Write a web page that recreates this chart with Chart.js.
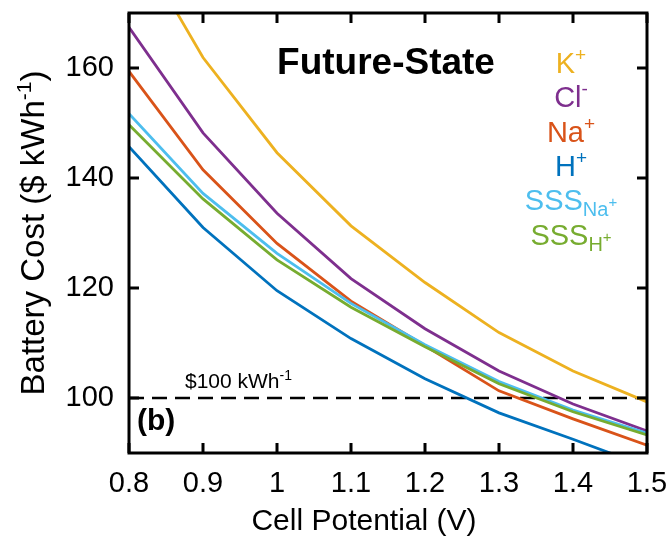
<!DOCTYPE html>
<html>
<head>
<meta charset="utf-8">
<script src="https://cdn.jsdelivr.net/npm/chart.js@4/dist/chart.umd.min.js"></script>
<style>
  html, body { margin: 0; padding: 0; background: #fff; }
  #wrap { width: 670px; height: 539px; }
</style>
</head>
<body>
<div id="wrap"><canvas id="costChart" width="670" height="539"></canvas></div>
<script>
// cell potential (V) vs battery cost ($/kWh), future-state case
const cellPotential = [0.8, 0.9, 1.0, 1.1, 1.2, 1.3, 1.4, 1.5];
const costK = [185.0, 161.9, 144.6, 131.3, 121.0, 111.9, 104.9, 99.3];
const costCl = [167.4, 148.2, 133.6, 121.7, 112.6, 104.9, 98.9, 94.0];
const costNa = [159.4, 141.5, 128.1, 117.6, 109.5, 101.3, 96.2, 91.4];
const costH = [145.7, 131.0, 119.5, 110.8, 103.5, 97.3, 92.5, 87.5];
const costSssNa = [151.7, 137.2, 126.3, 117.2, 109.7, 103.0, 97.8, 93.6];
const costSssH = [149.7, 136.2, 125.1, 116.5, 109.3, 102.6, 97.5, 93.3];
const targetX = [0.8, 1.5];
const targetCost = [100, 100];

const xTickValues = [0.8, 0.9, 1, 1.1, 1.2, 1.3, 1.4, 1.5];
const yTickValues = [100, 120, 140, 160];

const colK = "#EDB120";
const colCl = "#7E2F8E";
const colNa = "#D95319";
const colH = "#0072BD";
const colSssNa = "#4DBEEE";
const colSssH = "#77AC30";

const FONT = "'Liberation Sans', Arial, Helvetica, sans-serif";
Chart.defaults.font.family = FONT;
Chart.defaults.color = "#000";

function pts(xs, ys) {
  return xs.map((v, i) => ({ x: v, y: ys[i] }));
}

function series(label, ys, color) {
  return {
    label: label,
    data: pts(cellPotential, ys),
    borderColor: color,
    backgroundColor: color,
    borderWidth: 2.8,
    pointRadius: 0,
    tension: 0,
  };
}

// rich text: parts = [[text, size, dy, bold]]
function richWidth(ctx, parts) {
  let w = 0;
  parts.forEach(p => {
    ctx.font = (p[3] ? "bold " : "") + p[1] + "px " + FONT;
    w += ctx.measureText(p[0]).width;
  });
  return w;
}
function drawRich(ctx, parts, x, y, align) {
  const w = richWidth(ctx, parts);
  let cx = align === "center" ? x - w / 2 : x;
  ctx.textAlign = "left";
  ctx.textBaseline = "alphabetic";
  parts.forEach(p => {
    ctx.font = (p[3] ? "bold " : "") + p[1] + "px " + FONT;
    ctx.fillText(p[0], cx, y + p[2]);
    cx += ctx.measureText(p[0]).width;
  });
}

const legendRows = [
  { color: colK, parts: [["K", 29, 0], ["+", 19, -12]] },
  { color: colCl, parts: [["Cl", 29, 0], ["-", 19, -12]] },
  { color: colNa, parts: [["Na", 29, 0], ["+", 19, -12]] },
  { color: colH, parts: [["H", 29, 0], ["+", 19, -12]] },
  { color: colSssNa, parts: [["SSS", 29, 0], ["Na", 20, 6], ["+", 15, -3]] },
  { color: colSssH, parts: [["SSS", 29, 0], ["H", 20, 6], ["+", 15, -3]] },
];

const decorPlugin = {
  id: "decor",
  afterDatasetsDraw(chart) {
    const { ctx, chartArea: a, scales } = chart;
    const sx = scales.x, sy = scales.y;
    ctx.save();
    ctx.strokeStyle = "#000";
    ctx.lineWidth = 3;
    ctx.beginPath();
    xTickValues.forEach(v => {
      const px = sx.getPixelForValue(v);
      ctx.moveTo(px, a.bottom); ctx.lineTo(px, a.bottom - 10);
      ctx.moveTo(px, a.top); ctx.lineTo(px, a.top + 10);
    });
    yTickValues.forEach(v => {
      const py = sy.getPixelForValue(v);
      ctx.moveTo(a.left, py); ctx.lineTo(a.left + 10, py);
      ctx.moveTo(a.right, py); ctx.lineTo(a.right - 10, py);
    });
    ctx.stroke();
    ctx.lineJoin = "miter";
    ctx.strokeRect(a.left, a.top, a.right - a.left, a.bottom - a.top);

    ctx.fillStyle = "#000";
    drawRich(ctx, [["Future-State", 37, 0, true]], 386, 74, "center");
    drawRich(ctx, [["(b)", 30, 0, true]], 137, 430, "left");
    drawRich(ctx, [["$100 kWh", 21, 0], ["-1", 14, -8]], 185, 388, "left");

    let base = 73;
    legendRows.forEach(r => {
      ctx.fillStyle = r.color;
      drawRich(ctx, r.parts, 571, base, "center");
      base += 34.3;
    });

    // axis titles
    ctx.fillStyle = "#000";
    drawRich(ctx, [["Cell Potential (V)", 30, 0]], 364, 530, "center");
    ctx.translate(44, 233);
    ctx.rotate(-Math.PI / 2);
    drawRich(ctx, [["Battery Cost ($ kWh", 33, 0], ["-1", 21, -13], [")", 33, 0]], 0, 0, "center");
    ctx.restore();
  },
};

function noPad(s) {
  s.paddingTop = 0; s.paddingBottom = 0; s.paddingLeft = 0; s.paddingRight = 0;
}

new Chart(document.getElementById("costChart").getContext("2d"), {
  type: "line",
  data: {
    datasets: [
      series("H+", costH, colH),
      series("SSS H+", costSssH, colSssH),
      series("SSS Na+", costSssNa, colSssNa),
      series("Na+", costNa, colNa),
      series("Cl-", costCl, colCl),
      series("K+", costK, colK),
      {
        label: "$100 kWh-1",
        data: pts(targetX, targetCost),
        borderColor: "#000",
        borderWidth: 2.5,
        borderDash: [15, 8],
        pointRadius: 0,
      },
    ],
  },
  options: {
    responsive: false,
    animation: false,
    layout: { padding: { top: 13, right: 23, left: 0, bottom: 0 } },
    plugins: { legend: { display: false }, tooltip: { enabled: false } },
    scales: {
      x: {
        type: "linear",
        min: 0.8,
        max: 1.5,
        afterBuildTicks: s => { s.ticks = xTickValues.map(v => ({ value: v })); },
        afterFit: s => { s.height = 86; noPad(s); },
        grid: { display: false, drawTicks: false },
        border: { display: false },
        ticks: { font: { size: 29 }, padding: 14, maxRotation: 0, callback: v => String(v) },
      },
      y: {
        min: 90,
        max: 170,
        afterBuildTicks: s => { s.ticks = yTickValues.map(v => ({ value: v })); },
        afterFit: s => { s.width = 129; noPad(s); },
        grid: { display: false, drawTicks: false },
        border: { display: false },
        ticks: { font: { size: 29 }, padding: 15 },
      },
    },
  },
  plugins: [decorPlugin],
});
</script>
</body>
</html>
